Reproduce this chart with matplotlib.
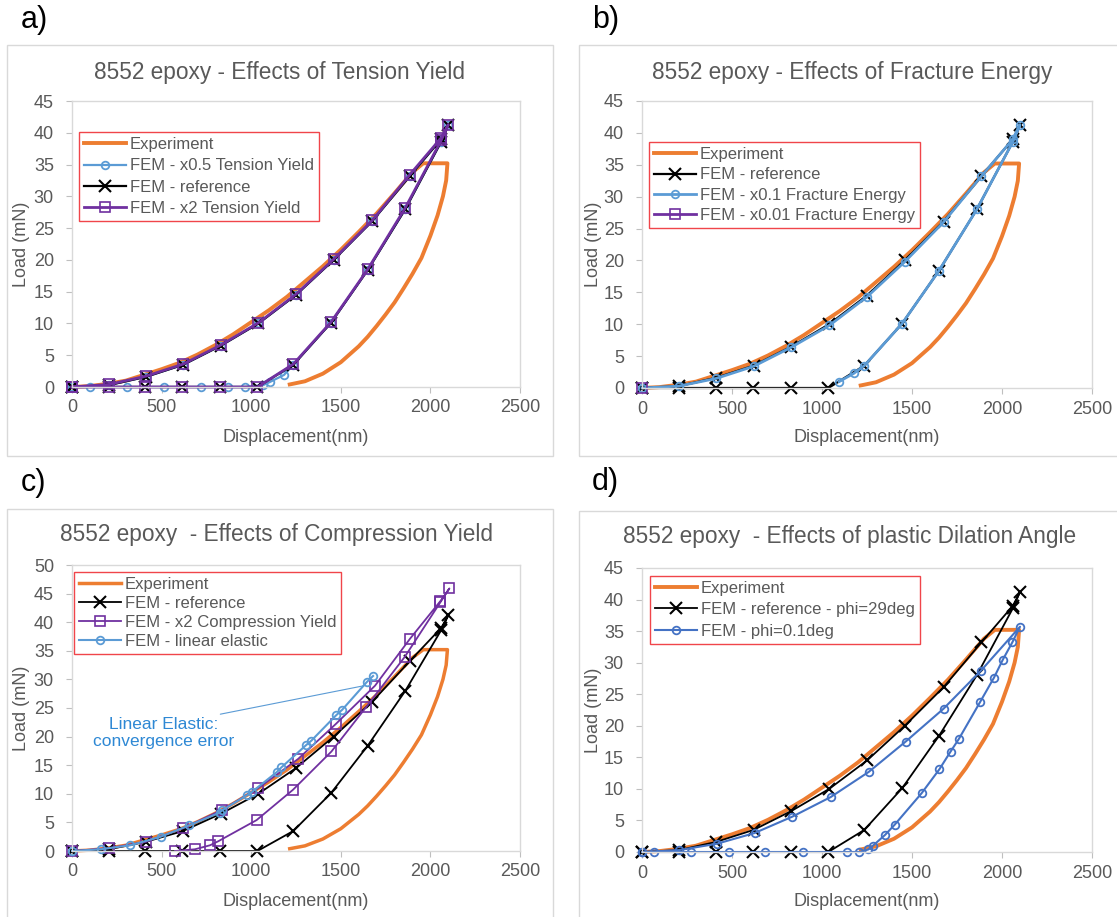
import matplotlib
matplotlib.use("Agg")
from matplotlib import pyplot as plt
from matplotlib.patches import Rectangle

plt.rcParams['font.family'] = ['Liberation Sans', 'DejaVu Sans']

W, H = 1117, 917

# --- measured curves (displacement in nm, load in mN) ---
# experiment: loading, hold at max load, unloading
exp_disp = [0, 100, 200, 300, 400, 500, 600, 700, 800, 900, 1000, 1100, 1200, 1300, 1400,
            1500, 1600, 1700, 1800, 1900, 1960, 2000, 2095,
            2088, 2070, 2040, 2000, 1950, 1900, 1850, 1800, 1750, 1700, 1650, 1600,
            1500, 1400, 1300, 1215]
exp_load = [0, 0.15, 0.5, 1.0, 1.9, 2.8, 3.8, 5.1, 6.6, 8.3, 10.2, 12.1, 14.2, 16.6, 19.0,
            21.6, 24.4, 27.3, 30.5, 33.8, 35.2, 35.2, 35.2,
            32.5, 30.0, 27.0, 23.8, 20.3, 17.8, 15.5, 13.3, 11.4, 9.6, 7.9, 6.4,
            3.9, 2.1, 0.9, 0.4]

# FEM reference model
ref_disp = [0, 205, 412, 620, 830, 1040, 1250, 1460, 1675, 1885, 2060, 2100,
            2060, 1860, 1650, 1445, 1235, 1035, 825, 615, 410, 205, 0]
ref_load = [0, 0.3, 1.6, 3.5, 6.5, 10.0, 14.5, 20.0, 26.1, 33.2, 39.0, 41.2,
            38.6, 28.0, 18.4, 10.1, 3.5, 0, 0, 0, 0, 0, 0]

# a) tension yield
ty05_disp = [0, 205, 412, 620, 830, 1040, 1250, 1460, 1675, 1885, 2060, 2100,
             2060, 1860, 1650, 1445, 1235, 1183, 1105, 1067, 966, 869, 718, 515, 305, 100, 0]
ty05_load = [0, 0.3, 1.6, 3.5, 6.5, 10.0, 14.5, 20.0, 26.1, 33.2, 39.0, 41.2,
             38.6, 28.0, 18.4, 10.1, 3.5, 1.9, 0.8, 0.3, 0, 0, 0, 0, 0, 0, 0]
ty2_disp = [0, 205, 412, 620, 830, 1040, 1250, 1460, 1675, 1885, 2060, 2100,
            2060, 1860, 1650, 1445, 1235, 1035, 825, 615, 410, 205, 0]
ty2_load = [0, 0.4, 1.7, 3.6, 6.6, 10.1, 14.6, 20.1, 26.2, 33.4, 39.2, 41.3,
            38.8, 28.2, 18.5, 10.2, 3.6, 0, 0, 0, 0, 0, 0]

# b) fracture energy
fe01_disp = [0, 205, 412, 620, 830, 1040, 1250, 1460, 1675, 1885, 2060, 2100,
             2060, 1860, 1650, 1445, 1235, 1177, 1095]
fe01_load = [0, 0.3, 1.5, 3.4, 6.4, 9.8, 14.3, 19.8, 26.0, 33.2, 39.0, 41.3,
             38.6, 28.0, 18.4, 10.1, 3.5, 2.3, 1.0]
fe001_disp = [0]
fe001_load = [0]

# c) compression yield / linear elastic
cy2_disp = [0, 205, 412, 621, 838, 1040, 1262, 1472, 1691, 1886, 2056, 2106,
            2056, 1856, 1640, 1448, 1233, 1030, 816, 770, 686, 575]
cy2_load = [0, 0.5, 1.6, 4.0, 7.2, 11.0, 16.1, 22.2, 28.9, 37.1, 43.7, 45.9,
            43.5, 33.9, 25.1, 17.4, 10.7, 5.4, 1.7, 1.0, 0.3, 0]
lin_disp = [0, 160, 325, 495, 655, 824, 837, 979, 1003, 1143, 1168,
            1306, 1336, 1473, 1508, 1644, 1680]
lin_load = [0, 0.3, 1.0, 2.5, 4.5, 6.7, 7.1, 9.8, 10.3, 13.8, 14.6,
            18.5, 19.3, 23.7, 24.7, 29.5, 30.6]

# d) dilation angle
phi01_disp = [0, 205, 415, 625, 835, 1048, 1260, 1465, 1675, 1882, 2100,
              2057, 2005, 1955, 1877, 1760, 1714, 1652, 1553, 1403, 1350, 1283, 1257,
              1208, 1140, 895, 685, 482, 272, 65, 0]
phi01_load = [0, 0.3, 1.3, 3.0, 5.6, 8.7, 12.7, 17.5, 22.7, 28.7, 35.7,
              33.2, 30.5, 27.6, 23.7, 17.9, 15.9, 13.1, 9.3, 4.3, 2.7, 1.0, 0.4,
              0, 0, 0, 0, 0, 0, 0, 0]

ORANGE = '#ED7D31'
BLUE = '#5B9BD5'
DBLUE = '#4472C4'
PURPLE = '#7030A0'
GREY = '#595959'


def px_rect(x0, y0, x1, y1):
    return [x0 / W, 1 - y1 / H, (x1 - x0) / W, (y1 - y0) / H]


fig = plt.figure(figsize=(W / 100, H / 100), dpi=100)

# chart-area borders
for (bx, by, bw, bh) in [(7, 45, 546, 411), (579, 45, 560, 411),
                         (7, 509, 546, 430), (579, 511, 560, 430)]:
    fig.add_artist(Rectangle((bx / W, 1 - (by + bh) / H), bw / W, bh / H,
                             transform=fig.transFigure, fill=False,
                             ec='#D9D9D9', lw=1))


def setup(ax, ymax, title, title_xy, letter, letter_xy):
    ax.set_xlim(0, 2500)
    ax.set_ylim(0, ymax)
    ax.set_xticks(range(0, 2501, 500))
    ax.set_yticks(range(0, ymax + 1, 5))
    for s in ax.spines.values():
        s.set_color('#D9D9D9')
        s.set_linewidth(1)
    ax.tick_params(axis='both', length=4, width=0.8, color='#BFBFBF',
                   labelcolor=GREY, labelsize=13)
    ax.tick_params(axis='y', pad=9)
    ax.tick_params(axis='x', pad=5)
    ax.set_xlabel('Displacement(nm)', fontsize=13, color=GREY)
    ax.set_ylabel('Load (mN)', fontsize=13, color=GREY)
    ax.xaxis.label.set_va('center')
    ax.yaxis.label.set_va('center')
    fig.text(title_xy[0] / W, 1 - title_xy[1] / H, title, fontsize=16.3,
             color=GREY, ha='center', va='center')
    fig.text(letter_xy[0] / W, 1 - letter_xy[1] / H, letter, fontsize=22,
             color='black', ha='left', va='center')


def legend(ax, x, y, spacing):
    leg = ax.legend(loc='upper left', bbox_to_anchor=(x / W, 1 - y / H),
                    bbox_transform=fig.transFigure, borderaxespad=0,
                    fontsize=12, handlelength=2.5, handletextpad=0.25,
                    labelspacing=spacing, borderpad=0.3, numpoints=1,
                    fancybox=False, framealpha=1)
    leg.get_frame().set_edgecolor('#F0454A')
    leg.get_frame().set_linewidth(1)
    for t in leg.get_texts():
        t.set_color(GREY)


def set_label_pos(ax, ax_px, xl_y, yl_x):
    x0, y0, x1, y1 = ax_px
    ax.xaxis.set_label_coords(0.5, (y1 - xl_y) / (y1 - y0))
    ax.yaxis.set_label_coords((yl_x - x0) / (x1 - x0), 0.5)


x_kw = dict(marker='x', ms=8, mew=1.5, clip_on=False)
o_kw = dict(marker='o', ms=5.5, mew=1.3, mfc='none', clip_on=False)
s_kw = dict(marker='s', ms=6.5, mew=1.2, mfc='none', clip_on=False)

# ---------------- a) ----------------
a_px = (72, 101, 520, 387)
ax = fig.add_axes(px_rect(*a_px))
ax.plot(exp_disp, exp_load, color=ORANGE, lw=2.8, label='Experiment', clip_on=False)
ax.plot(ty05_disp, ty05_load, color=BLUE, lw=1.6, label='FEM - x0.5 Tension Yield', **o_kw)
ax.plot(ref_disp, ref_load, color='black', lw=1.6, label='FEM - reference', **x_kw)
ax.plot(ty2_disp, ty2_load, color=PURPLE, lw=2.0, label='FEM - x2 Tension Yield', **s_kw)
setup(ax, 45, '8552 epoxy - Effects of Tension Yield', (280, 72), 'a)', (21, 20))
set_label_pos(ax, a_px, 438, 21)
legend(ax, 79, 132, 0.38)

# ---------------- b) ----------------
b_px = (642, 101, 1092, 388)
ax = fig.add_axes(px_rect(*b_px))
ax.plot(exp_disp, exp_load, color=ORANGE, lw=2.8, label='Experiment', clip_on=False)
ax.plot(ref_disp, ref_load, color='black', lw=1.6, label='FEM - reference', **x_kw)
ax.plot(fe01_disp, fe01_load, color=BLUE, lw=2.0, label='FEM - x0.1 Fracture Energy', **o_kw)
ax.plot(fe001_disp, fe001_load, color=PURPLE, lw=2.0, label='FEM - x0.01 Fracture Energy', **s_kw)
setup(ax, 45, '8552 epoxy - Effects of Fracture Energy', (852, 72), 'b)', (592, 20))
set_label_pos(ax, b_px, 438, 594)
legend(ax, 649, 142, 0.32)

# ---------------- c) ----------------
c_px = (72, 565, 520, 851)
ax = fig.add_axes(px_rect(*c_px))
ax.plot(exp_disp, exp_load, color=ORANGE, lw=2.5, label='Experiment', clip_on=False)
ax.plot(ref_disp, ref_load, color='black', lw=1.3, label='FEM - reference', **x_kw)
ax.plot(cy2_disp, cy2_load, color=PURPLE, lw=1.3, label='FEM - x2 Compression Yield', **s_kw)
ax.plot(lin_disp, lin_load, color=BLUE, lw=1.5, label='FEM - linear elastic', **o_kw)
ax.annotate('Linear Elastic:\nconvergence error', xy=(1630, 28.9), xytext=(513, 20.6),
            fontsize=12.5, color='#2E88D4', ha='center', va='center',
            arrowprops=dict(arrowstyle='-', color=BLUE, lw=0.8,
                            relpos=(0.8, 1.0), shrinkA=0, shrinkB=0))
setup(ax, 50, '8552 epoxy  - Effects of Compression Yield', (277, 534), 'c)', (21, 483))
set_label_pos(ax, c_px, 902, 21)
legend(ax, 74, 572, 0.24)

# ---------------- d) ----------------
d_px = (642, 568, 1092, 852)
ax = fig.add_axes(px_rect(*d_px))
ax.plot(exp_disp, exp_load, color=ORANGE, lw=2.8, label='Experiment', clip_on=False)
ax.plot(ref_disp, ref_load, color='black', lw=1.3, label='FEM - reference - phi=29deg', **x_kw)
ax.plot(phi01_disp, phi01_load, color=DBLUE, lw=1.5, label='FEM - phi=0.1deg', **o_kw)
setup(ax, 45, '8552 epoxy  - Effects of plastic Dilation Angle', (850, 536), 'd)', (592, 482))
set_label_pos(ax, d_px, 902, 594)
legend(ax, 650, 576, 0.38)

fig.savefig('out.png', dpi=100)
